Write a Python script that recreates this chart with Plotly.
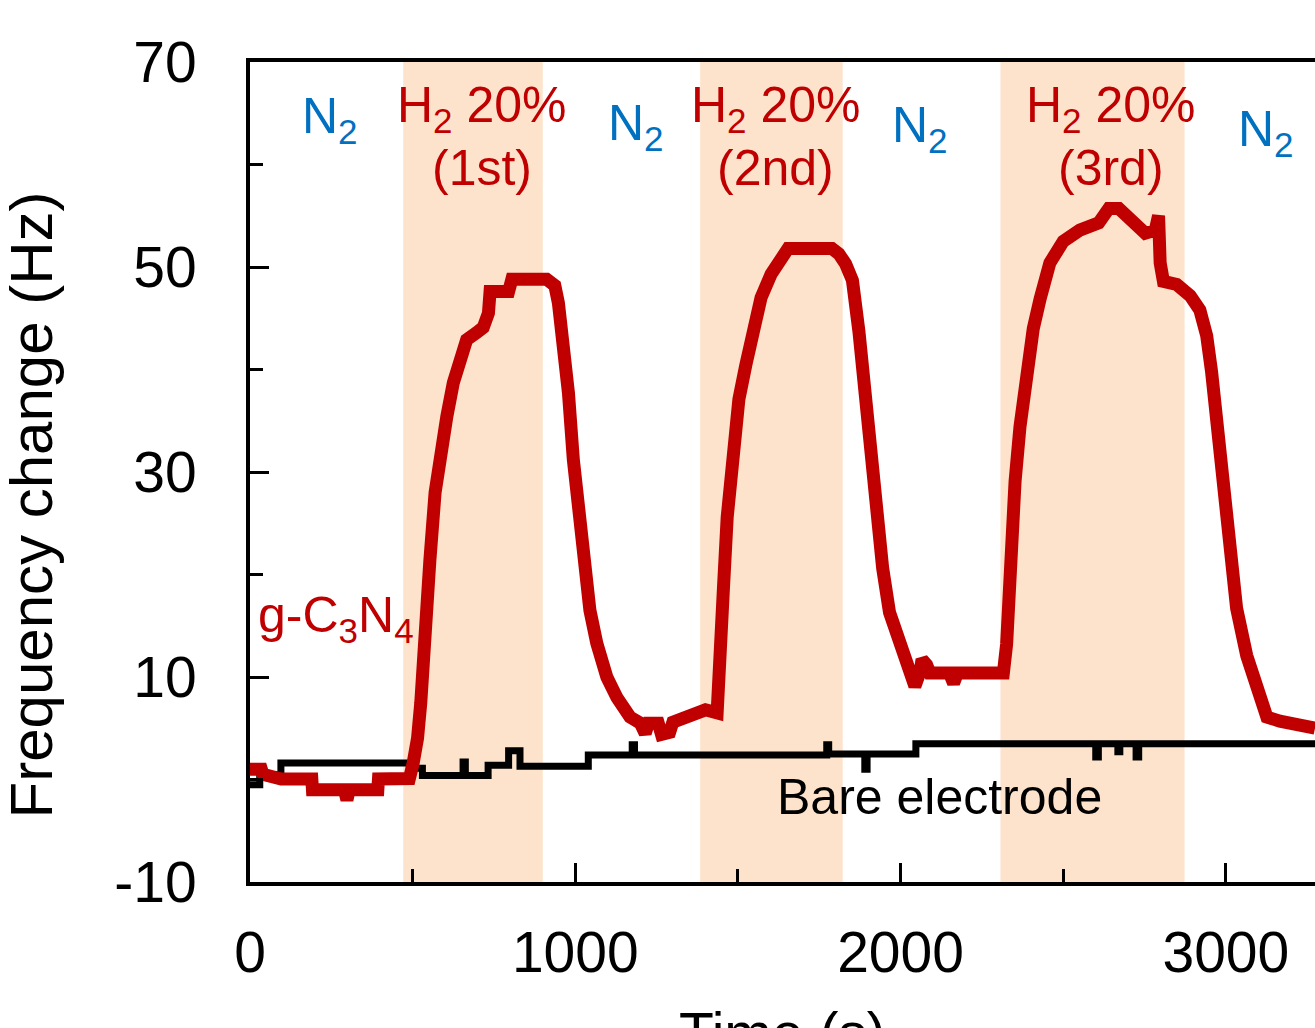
import plotly.graph_objects as go

# ---- data ----
red_t = [0, 35, 40, 96, 190, 192, 290, 298, 305, 393, 395, 490, 501, 509, 515, 525, 538, 553, 569, 584,
         605, 625, 646, 666, 697, 717, 733, 738, 795, 805, 912, 937, 948, 963, 979, 994, 1009, 1025, 1045,
         1066, 1097, 1128, 1168, 1200, 1215, 1225, 1255, 1265, 1290, 1300, 1340, 1380, 1400, 1436, 1446,
         1456, 1467, 1483, 1503, 1524, 1550, 1571, 1602, 1633, 1654, 1789, 1810, 1831, 1852, 1872, 1893,
         1909, 1924, 1945, 1966, 1997, 2028, 2044, 2060, 2066, 2080, 2090, 2150, 2163, 2175, 2316, 2326,
         2336, 2352, 2367, 2388, 2408, 2429, 2459, 2500, 2551, 2609, 2640, 2671, 2701, 2732, 2752, 2783,
         2793, 2798, 2808, 2849, 2890, 2920, 2941, 2956, 2972, 2992, 3013, 3033, 3064, 3095, 3126, 3166,
         3274]
red_f = [1.0, 1.0, 0.5, 0.05, 0.05, -1.0, -1.0, -2.0, -1.0, -1.0, 0.05, 0.1, 1.5, 2.5, 4.0, 7.5, 16.5,
         21.4, 28.0, 31.9, 35.4, 38.7, 41.2, 42.9, 43.6, 44.1, 45.5, 47.6, 47.6, 48.8, 48.8, 48.2, 46.5,
         42.6, 37.7, 31.2, 26.3, 22.1, 16.5, 13.3, 10.0, 8.0, 6.1, 5.5, 4.5, 5.5, 5.5, 4.4, 4.6, 5.6, 6.0,
         6.5, 6.8, 6.5, 10.7, 19.0, 25.6, 30.5, 37.1, 40.4, 44.4, 47.0, 49.3, 50.6, 51.8, 51.8, 51.3, 50.3,
         48.7, 43.7, 37.1, 30.5, 25.6, 20.6, 16.3, 13.0, 9.75, 9.1, 10.5, 11.7, 11.2, 10.4, 10.4, 9.4, 10.4,
         10.4, 13.2, 22.0, 29.1, 34.4, 39.8, 44.0, 46.9, 50.4, 52.5, 53.6, 54.3, 55.7, 55.7, 54.7, 54.0,
         53.3, 53.6, 55.0, 50.4, 48.6, 48.3, 47.2, 45.8, 43.3, 39.8, 34.4, 27.4, 22.0, 16.7, 12.1, 8.6, 6.1,
         5.7, 5.0]

bare_t = [0, 30, 95, 490, 530, 655, 662, 732, 795, 830, 1040, 1175, 1182, 1773, 1779, 1890, 1897, 2047,
          2600, 2608, 2668, 2674, 2724, 2732, 3274]
bare_f = [-0.5, 0.5, 1.6, 1.1, 0.4, 1.7, 0.4, 1.4, 2.8, 1.3, 2.4, 3.4, 2.4, 3.4, 2.5, 1.0, 2.5, 3.5,
          2.2, 3.5, 2.7, 3.5, 2.2, 3.5, 3.5]

h2_start = [471, 1384, 2307]
h2_end = [900, 1822, 2873]
h2_labels = ["(1st)", "(2nd)", "(3rd)"]
h2_label_x = [712, 1617, 2647]
n2_label_x = [246, 1187, 2060, 3123]
n2_label_y = [64.4, 63.7, 63.5, 63.1]

x_ticks = [0, 1000, 2000, 3000]
y_ticks = [-10, 10, 30, 50, 70]

RED = "#C00000"
BLUE = "#0070C0"
BAND = "#FDE3CB"
FONT = "Arial, Liberation Sans, sans-serif"

fig = go.Figure()

fig.add_trace(go.Scatter(x=bare_t, y=bare_f, mode="lines", line=dict(color="black", width=7, shape="hv"),
                         showlegend=False))
fig.add_trace(go.Scatter(x=red_t, y=red_f, mode="lines", line=dict(color=RED, width=13),
                         showlegend=False))

for s, e in zip(h2_start, h2_end):
    fig.add_shape(type="rect", xref="x", yref="paper", x0=s, x1=e, y0=0, y1=1,
                  fillcolor=BAND, line=dict(width=0), layer="below")

ann = []
for x, y in zip(n2_label_x, n2_label_y):
    ann.append(dict(x=x, y=y, text="N<sub>2</sub>", font=dict(color=BLUE, size=50, family=FONT)))
for x, lab in zip(h2_label_x, h2_labels):
    ann.append(dict(x=x, y=65.45, text="H<sub>2</sub> 20%", font=dict(color=RED, size=50, family=FONT)))
    ann.append(dict(x=x, y=59.7, text=lab, font=dict(color=RED, size=50, family=FONT)))
ann.append(dict(x=264, y=15.7, text="g-C<sub>3</sub>N<sub>4</sub>", font=dict(color=RED, size=50, family=FONT)))
ann.append(dict(x=2121, y=-1.7, text="Bare electrode", font=dict(color="black", size=50, family=FONT)))
ann.append(dict(x=-0.205, xref="paper", y=26.8, yref="y", text="Frequency change (Hz)", textangle=-90,
                font=dict(color="black", size=60, family=FONT)))
ann.append(dict(x=0.5, xref="paper", y=-0.143, yref="paper", yanchor="top", text="Time (s)",
                font=dict(color="black", size=57, family=FONT)))
for a in ann:
    a.setdefault("xref", "x")
    a.setdefault("yref", "y")
    a.setdefault("yanchor", "middle")
    a["showarrow"] = False
    a["xanchor"] = "center"
fig.update_layout(annotations=ann)

fig.update_layout(
    width=1315, height=1028,
    margin=dict(l=250, r=0, t=62, b=146, pad=0),
    paper_bgcolor="white", plot_bgcolor="white",
    font=dict(family=FONT, color="black", size=57),
    xaxis=dict(range=[0, 3274], tickvals=x_ticks, ticktext=[str(v) for v in x_ticks],
               ticks="inside", ticklen=19, tickwidth=3, tickcolor="black",
               minor=dict(dtick=500, tick0=0, ticks="inside", ticklen=13, tickwidth=3, tickcolor="black"),
               showline=True, linewidth=4, linecolor="black", mirror=True,
               showgrid=False, zeroline=False, tickfont=dict(size=57), ticklabelstandoff=18),
    yaxis=dict(range=[-10, 70], tickvals=y_ticks, ticktext=[str(v) for v in y_ticks],
               ticks="inside", ticklen=19, tickwidth=3, tickcolor="black",
               minor=dict(dtick=10, tick0=-10, ticks="inside", ticklen=13, tickwidth=3, tickcolor="black"),
               showline=True, linewidth=4, linecolor="black",
               showgrid=False, zeroline=False, tickfont=dict(size=57), ticklabelstandoff=38),
)

fig.write_html("out.html", config={"displayModeBar": False})
